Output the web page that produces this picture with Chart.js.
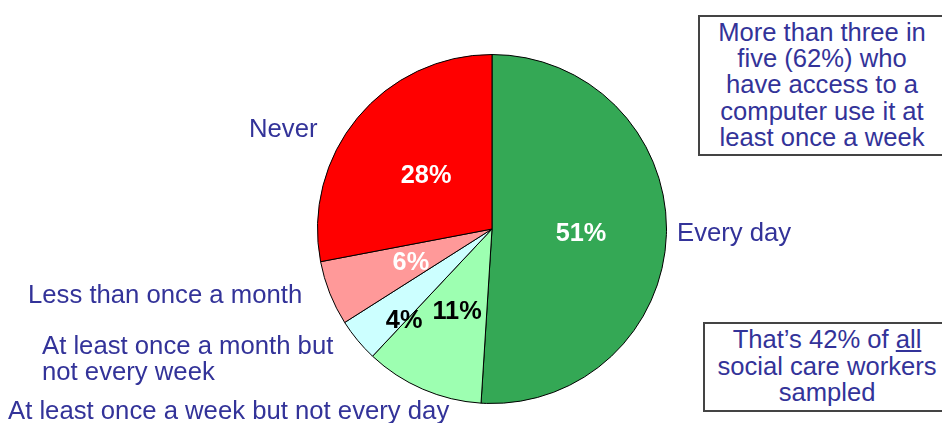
<!DOCTYPE html>
<html>
<head>
<meta charset="utf-8">
<script src="https://cdn.jsdelivr.net/npm/chart.js@4/dist/chart.umd.min.js"></script>
<style>
    body { margin: 0; background: #ffffff; }
    #wrap { position: relative; width: 942px; height: 423px; overflow: hidden; font-family: 'Liberation Sans', Arial, sans-serif; }
    canvas { position: absolute; left: 0; top: 0; }
    .note {
        position: absolute;
        box-sizing: border-box;
        border: 2px solid #444444;
        background: #ffffff;
        color: #333399;
        font-size: 25.6px;
        text-align: center;
        white-space: nowrap;
    }
</style>
</head>
<body>
<div id="wrap">
    <canvas id="pieChart" width="942" height="423"></canvas>
    <div class="note" style="left:698px; top:15px; width:248px; height:141px; line-height:26.2px; padding-top:2px;">
        More than three in<br>five (62%) who<br>have access to a<br>computer use it at<br>least once a week
    </div>
    <div class="note" style="left:703px; top:322px; width:248px; height:90px; line-height:26.7px; padding-top:2px;">
        That’s 42% of <u>all</u><br>social care workers<br>sampled
    </div>
</div>
<script>
// Data
const categories = [
    'Every day',
    'At least once a week but not every day',
    ['At least once a month but', 'not every week'],
    'Less than once a month',
    'Never'
];
const shares = [51, 11, 4, 6, 28];
const sliceColors = ['#34A855', '#9DFFB1', '#CCFFFF', '#FF9999', '#FF0000'];
const pctColors = ['#ffffff', '#000000', '#000000', '#ffffff', '#ffffff'];

// Label placement (not data)
const pctRadius = [0.51, 0.505, 0.72, 0.5, 0.49];
const pctShiftDeg = [0, 0, -6, 0, 0];
const namePos = [
    { x: 677, y: 241 },
    { x: 8, y: 419 },
    { x: 42, y: 354 },
    { x: 28, y: 303 },
    { x: 249, y: 137 }
];

const labelPlugin = {
    id: 'pieLabels',
    afterDatasetsDraw(chart) {
        const ctx = chart.ctx;
        const arcs = chart.getDatasetMeta(0).data;
        ctx.save();

        // percentages inside slices
        ctx.font = 'bold 25.3px "Liberation Sans", Arial, sans-serif';
        ctx.textAlign = 'center';
        ctx.textBaseline = 'alphabetic';
        arcs.forEach((arc, i) => {
            const p = arc.getProps(['x', 'y', 'startAngle', 'endAngle', 'outerRadius'], true);
            const mid = (p.startAngle + p.endAngle) / 2 + pctShiftDeg[i] * Math.PI / 180;
            const r = p.outerRadius * pctRadius[i];
            ctx.fillStyle = pctColors[i];
            ctx.fillText(shares[i] + '%', p.x + Math.cos(mid) * r, p.y + Math.sin(mid) * r + 9);
        });

        // category names
        ctx.font = '25.7px "Liberation Sans", Arial, sans-serif';
        ctx.textAlign = 'left';
        ctx.fillStyle = '#333399';
        categories.forEach((name, i) => {
            const lines = Array.isArray(name) ? name : [name];
            lines.forEach((line, j) => {
                ctx.fillText(line, namePos[i].x, namePos[i].y + j * 25.5);
            });
        });
        ctx.restore();
    }
};

const ctx = document.getElementById('pieChart').getContext('2d');
const pieChart = new Chart(ctx, {
    type: 'pie',
    data: {
        labels: categories,
        datasets: [{
            data: shares,
            backgroundColor: sliceColors,
            borderColor: '#000000',
            borderWidth: 1
        }]
    },
    options: {
        responsive: false,
        animation: false,
        layout: {
            padding: { left: 317, right: 275, top: 54, bottom: 19 }
        },
        plugins: {
            legend: { display: false },
            tooltip: { enabled: false }
        }
    },
    plugins: [labelPlugin]
});
</script>
</body>
</html>
